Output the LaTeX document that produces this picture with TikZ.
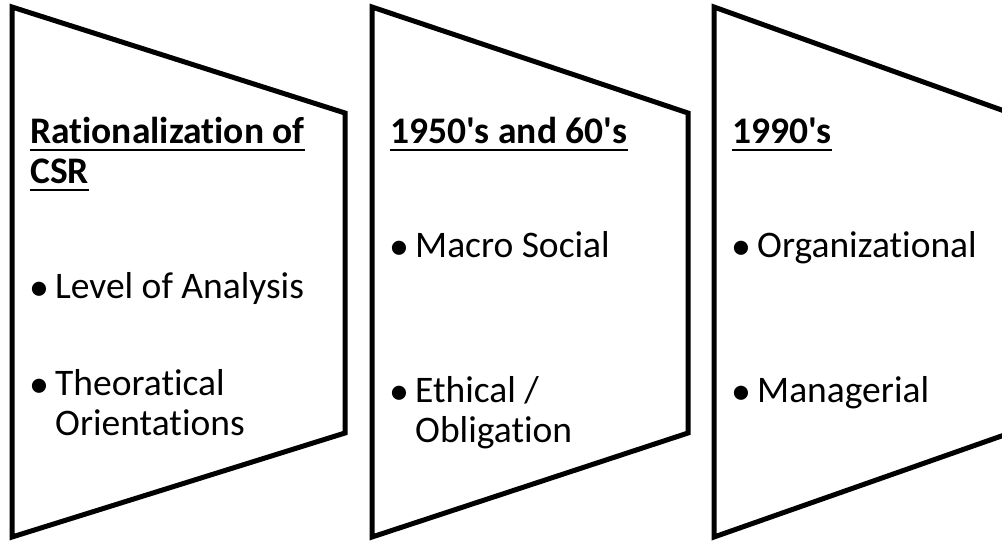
\documentclass[tikz,border=0pt]{standalone}
\usepackage{fontspec}
\setmainfont{Carlito}[Ligatures={TeXOff,NoCommon}]
\begin{document}
\begin{tikzpicture}[x=1pt,y=-1pt,
  panel/.style={draw=black,line width=5pt,line join=miter},
  txt/.style={anchor=base west,inner sep=0pt,font=\fontsize{37.5}{40}\selectfont},
  head/.style={txt,font=\fontsize{37.5}{40}\selectfont\bfseries},
  dot/.style={anchor=base,inner sep=0pt,yshift=-2pt,font=\fontsize{40}{40}\selectfont},
  ul/.style={line width=2.5pt}]
\useasboundingbox (0,0) rectangle (1002,542);
% panels
\draw[panel] (12,7) -- (345,113) -- (345,433) -- (12,537) -- cycle;
\draw[panel] (372,7) -- (688,113) -- (688,433) -- (372,537) -- cycle;
\draw[panel] (714,7) -- (1010,113) -- (1010,433) -- (714,537) -- cycle;
% panel 1
\node[head] (h1a) at (30,143) {Rationalization of};
\node[head] (h1b) at (30,183) {CSR};
\draw[ul] ([yshift=-7pt]h1a.base west) -- ([yshift=-7pt]h1a.base east);
\draw[ul] ([yshift=-7pt]h1b.base west) -- ([yshift=-7pt]h1b.base east);
\node[dot] (b1a) at (39,298) {•};
\node[txt] (t1a) at (55,298) {Level of Analysis};
\node[dot] (b1b) at (39,395) {•};
\node[txt] (t1b) at (55,395) {Theoratical};
\node[txt] (t1c) at (55,435) {Orientations};
% panel 2
\node[head] (h2) at (390,143) {1950's and 60's};
\draw[ul] ([yshift=-7pt]h2.base west) -- ([yshift=-7pt]h2.base east);
\node[dot] (b2a) at (399,257) {•};
\node[txt] (t2a) at (415,257) {Macro Social};
\node[dot] (b2b) at (399,402) {•};
\node[txt] (t2b) at (415,402) {Ethical /};
\node[txt] (t2c) at (415,442) {Obligation};
% panel 3
\node[head] (h3) at (732,143) {1990's};
\draw[ul] ([yshift=-7pt]h3.base west) -- ([yshift=-7pt]h3.base east);
\node[dot] (b3a) at (741,257) {•};
\node[txt] (t3a) at (757,257) {Organizational};
\node[dot] (b3b) at (741,402) {•};
\node[txt] (t3b) at (757,402) {Managerial};
\end{tikzpicture}
\end{document}
